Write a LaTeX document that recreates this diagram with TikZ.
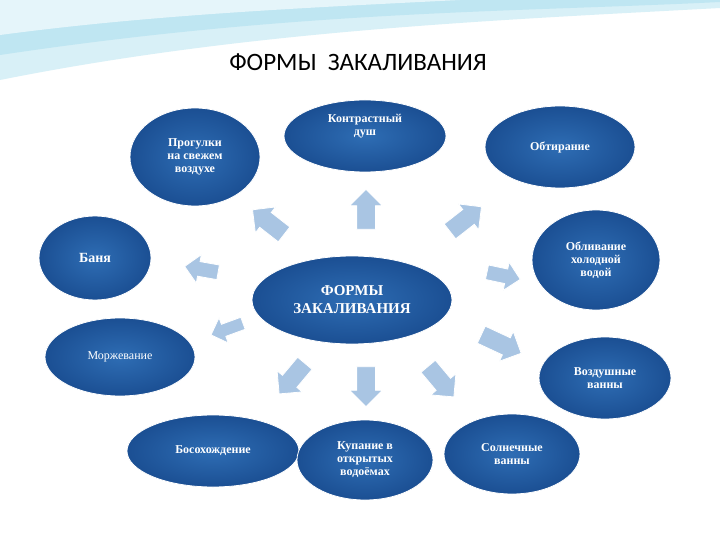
\documentclass[tikz,border=0pt]{standalone}
\usepackage{fontspec}
\setmainfont{Liberation Serif}
\newfontfamily\titlefont{Carlito}
\usetikzlibrary{shapes.geometric, shapes.arrows, positioning}
\definecolor{ovaldark}{HTML}{1B4F93}
\definecolor{ovalmid}{HTML}{2E6DB4}
\definecolor{arrowblue}{HTML}{A9C5E3}
\definecolor{wavecyan}{HTML}{BFE6F2}
\tikzset{%
  % Specifications for style of nodes:
            form/.style = {ellipse, draw=white, line width=0.8pt,
                            inner color=ovalmid, outer color=ovaldark,
                            text=white, font=\bfseries\fontsize{12}{13}\selectfont,
                            align=center, inner sep=0pt},
            pointer/.style = {single arrow, draw=white, line width=0.8pt,
                            fill=arrowblue, minimum height=40pt,
                            single arrow head extend=7pt, inner xsep=0pt, inner ysep=9pt}
}
\begin{document}
\begin{tikzpicture}[x=1pt, y=-1pt]
\useasboundingbox (0,0) rectangle (720,540);
\fill[white] (0,0) rectangle (720,540);
% top wave
\fill[wavecyan!60] (0,0) -- (720,0) -- (720,8) .. controls (500,20) and (250,30) .. (0,80) -- cycle;
\fill[wavecyan] (0,0) -- (720,0) -- (720,2) .. controls (520,12) and (300,10) .. (0,55) -- cycle;
\fill[wavecyan!40] (0,0) -- (460,0) .. controls (300,8) and (150,15) .. (0,35) -- cycle;
\node (title) at (358,62) {\titlefont\fontsize{25}{27}\selectfont ФОРМЫ\ \ ЗАКАЛИВАНИЯ};
% ovals
\node[form, minimum width=200pt, minimum height=88pt, font=\bfseries\fontsize{15}{18}\selectfont] (main) at (352,300) {ФОРМЫ\\ЗАКАЛИВАНИЯ};
\node[form, minimum width=130pt, minimum height=98pt] (walk) at (195,157) {Прогулки\\на свежем\\воздухе};
\node[form, minimum width=162pt, minimum height=72pt] (shower) at (365,136) {Контрастный\\душ\\[10pt]};
\node[form, minimum width=150pt, minimum height=82pt] (rub) at (560,147) {Обтирание};
\node[form, minimum width=112pt, minimum height=84pt, font=\bfseries\fontsize{14}{15}\selectfont] (bath) at (95,258) {Баня};
\node[form, minimum width=128pt, minimum height=100pt] (pour) at (596,260) {Обливание\\холодной\\водой};
\node[form, minimum width=150pt, minimum height=78pt, font=\fontsize{12}{13}\selectfont] (ice) at (120,357) {Моржевание};
\node[form, minimum width=132pt, minimum height=82pt] (airbath) at (605,378) {Воздушные\\ванны};
\node[form, minimum width=172pt, minimum height=72pt] (barefoot) at (213,451) {Босохождение};
\node[form, minimum width=136pt, minimum height=80pt] (swim) at (365,460) {Купание в\\открытых\\водоёмах};
\node[form, minimum width=136pt, minimum height=80pt] (sun) at (512,454) {Солнечные\\ванны};
% arrows
\node[pointer, rotate=90] (a1) at (366,214) {};
\node[pointer, rotate=38] (a2) at (462,222) {};
\node[pointer, rotate=142] (a3) at (272,225) {};
\node[pointer, rotate=170, minimum height=34pt, inner ysep=7pt] (a4) at (205,270) {};
\node[pointer, rotate=200, minimum height=34pt, inner ysep=6pt] (a5) at (230,328) {};
\node[pointer, rotate=-12, minimum height=34pt, inner ysep=7pt] (a6) at (500,275) {};
\node[pointer, rotate=-25, minimum height=44pt] (a7) at (497,342) {};
\node[pointer, rotate=-130] (a8) at (295,375) {};
\node[pointer, rotate=-90] (a9) at (366,382) {};
\node[pointer, rotate=-50] (a10) at (438,378) {};
\end{tikzpicture}
\end{document}
